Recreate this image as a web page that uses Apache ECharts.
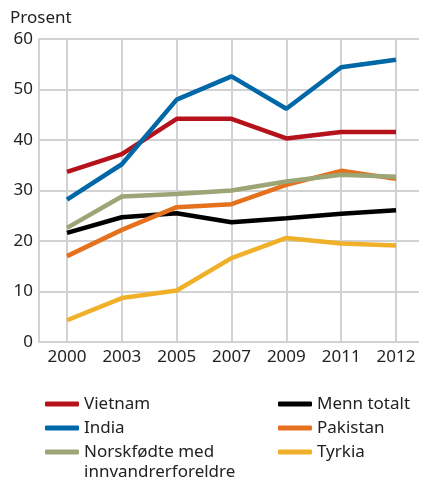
<!DOCTYPE html>
<html>
<head>
<meta charset="utf-8">
<script src="https://cdn.jsdelivr.net/npm/echarts@6/dist/echarts.min.js"></script>
<style>
  html, body { margin: 0; padding: 0; background: #fff; }
  #chart { width: 422px; height: 480px; }
</style>
</head>
<body>
<div id="chart"></div>
<script>
var years = ['2000', '2003', '2005', '2007', '2009', '2011', '2012'];
var vietnam = [33.7, 37.2, 44.2, 44.2, 40.3, 41.6, 41.6];
var india = [28.2, 35.2, 48.0, 52.6, 46.2, 54.4, 55.9];
var norskfodte = [22.6, 28.8, 29.3, 30.0, 31.8, 33.1, 32.7];
var mennTotalt = [21.6, 24.7, 25.5, 23.7, 24.5, 25.4, 26.1];
var pakistan = [17.0, 22.2, 26.7, 27.3, 31.1, 33.9, 32.3];
var tyrkia = [4.3, 8.7, 10.2, 16.6, 20.6, 19.5, 19.1];
var yTicks = [0, 10, 20, 30, 40, 50, 60];

var chart = echarts.init(document.getElementById('chart'));
var font = 'Noto Sans';
var textColor = '#222';
var gridColor = '#d2d2d2';
var norskName = 'Norskfødte med\ninnvandrerforeldre';
var norskLines = norskName.split('\n');

function line(name, data, color) {
  return {
    name: name,
    type: 'line',
    xAxisIndex: 1,
    yAxisIndex: 1,
    data: data,
    symbol: 'none',
    color: color,
    lineStyle: { color: color, width: 4.5 }
  };
}

var legendBase = {
  top: 387,
  height: 150,
  orient: 'vertical',
  icon: 'roundRect',
  itemWidth: 34,
  itemHeight: 5,
  itemGap: 0,
  textStyle: { fontSize: 17, color: textColor, lineHeight: 24, fontFamily: font },
  // tweede linje av lang navn tegnes separat under
  formatter: function (name) { return name.split('\n')[0]; }
};

chart.setOption({
  animation: false,
  textStyle: { fontFamily: font },
  title: {
    text: 'Prosent',
    left: 5,
    top: 5,
    textStyle: { fontFamily: font, fontSize: 17, fontWeight: 'normal', color: textColor }
  },
  grid: [
    { left: 39, right: 3, top: 39, bottom: 138 },
    { left: 67, right: 26, top: 39, bottom: 138 }
  ],
  xAxis: [
    { type: 'category', gridIndex: 0, data: years, show: false },
    {
      type: 'category',
      gridIndex: 1,
      data: years,
      boundaryGap: false,
      axisLine: { show: false },
      axisTick: { show: false },
      axisLabel: { color: textColor, fontSize: 17, margin: 7, fontFamily: font },
      splitLine: { show: true, lineStyle: { color: gridColor, width: 2 } }
    }
  ],
  yAxis: [
    {
      type: 'value',
      gridIndex: 0,
      min: yTicks[0],
      max: yTicks[yTicks.length - 1],
      interval: 10,
      axisLine: { show: true, lineStyle: { color: gridColor, width: 2 } },
      axisTick: { show: false },
      axisLabel: { color: textColor, fontSize: 17, margin: 6, fontFamily: font },
      splitLine: { show: true, lineStyle: { color: gridColor, width: 2 } }
    },
    {
      type: 'value',
      gridIndex: 1,
      min: yTicks[0],
      max: yTicks[yTicks.length - 1],
      interval: 10,
      show: false,
      splitLine: { show: false }
    }
  ],
  legend: [
    Object.assign({ left: 40, data: ['Vietnam', 'India', norskName] }, legendBase),
    Object.assign({ left: 273, data: ['Menn totalt', 'Pakistan', 'Tyrkia'] }, legendBase)
  ],
  graphic: [
    {
      type: 'text',
      left: 84,
      top: 464,
      style: { text: norskLines[1], fill: textColor, font: '17px "' + font + '"' }
    }
  ],
  series: [
    line('Tyrkia', tyrkia, '#f0b02a'),
    line('Menn totalt', mennTotalt, '#000000'),
    line('Pakistan', pakistan, '#e5711f'),
    line(norskName, norskfodte, '#9ca575'),
    line('Vietnam', vietnam, '#b5121b'),
    line('India', india, '#0068a8')
  ]
});
</script>
</body>
</html>
